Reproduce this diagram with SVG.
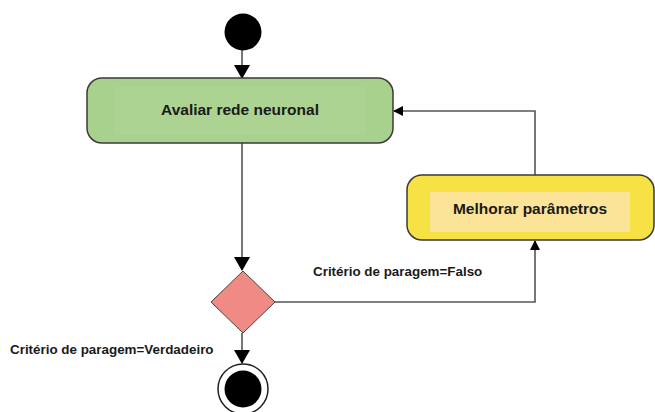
<svg xmlns="http://www.w3.org/2000/svg" width="655" height="412" viewBox="0 0 655 412">
  <defs>
    <marker id="arrow" markerWidth="10" markerHeight="10" refX="9" refY="5" orient="auto" markerUnits="userSpaceOnUse" viewBox="0 0 10 10">
      <path d="M0,0 L10,5 L0,10 Z" fill="#000"/>
    </marker>
    <marker id="arrowBig" markerWidth="14" markerHeight="16" refX="13" refY="8" orient="auto" markerUnits="userSpaceOnUse" viewBox="0 0 14 16">
      <path d="M0,0 L14,8 L0,16 Z" fill="#000"/>
    </marker>
  </defs>
  <style>
    .lbl { font-family: "Liberation Sans", Arial, sans-serif; font-weight: bold; fill: #1a1a1a; }
    .node-text { font-size: 15.5px; }
    .edge-text { font-size: 13.4px; }
    .conn { fill: none; stroke: #555; stroke-width: 1.6; }
    .box { stroke: #3a3a3a; stroke-width: 1.5; }
  </style>
  <rect width="655" height="412" fill="#fff"/>

  <g id="connectors">
    <line class="conn" x1="242" y1="48" x2="242" y2="78" marker-end="url(#arrowBig)"/>
    <line class="conn" x1="242" y1="143" x2="242" y2="270" marker-end="url(#arrowBig)"/>
    <polyline class="conn" points="275,302 535,302 535,241" marker-end="url(#arrow)"/>
    <polyline class="conn" points="535,175 535,111 394,111" marker-end="url(#arrow)"/>
    <line class="conn" x1="242" y1="333" x2="242" y2="363" marker-end="url(#arrowBig)"/>
  </g>

  <g id="start">
    <circle cx="243" cy="32" r="18.5" fill="#000"/>
  </g>

  <g id="avaliar">
    <rect class="box" x="87" y="78" width="306" height="65" rx="15" ry="15" fill="#a9d18e"/>
    <rect x="115" y="86" width="250" height="48" fill="#b3d898" opacity="0.35"/>
    <text class="lbl node-text" x="240" y="115" text-anchor="middle">Avaliar rede neuronal</text>
  </g>

  <g id="melhorar">
    <rect class="box" x="407" y="175" width="247" height="65" rx="15" ry="15" fill="#f7e245"/>
    <rect x="430" y="192" width="200" height="40" fill="#fbe497"/>
    <text class="lbl node-text" x="530" y="214" text-anchor="middle">Melhorar parâmetros</text>
  </g>

  <g id="decisao">
    <polygon points="243,271 275,302 243,333 211,302" fill="#ef8a84" stroke="#444" stroke-width="1"/>
  </g>

  <g id="fim">
    <circle cx="243" cy="389" r="25" fill="#fff" stroke="#222" stroke-width="1.5"/>
    <circle cx="243" cy="389" r="18.5" fill="#000"/>
  </g>

  <g id="labels">
    <text class="lbl edge-text" x="313" y="276">Critério de paragem=Falso</text>
    <text class="lbl edge-text" x="10" y="354">Critério de paragem=Verdadeiro</text>
  </g>
</svg>
